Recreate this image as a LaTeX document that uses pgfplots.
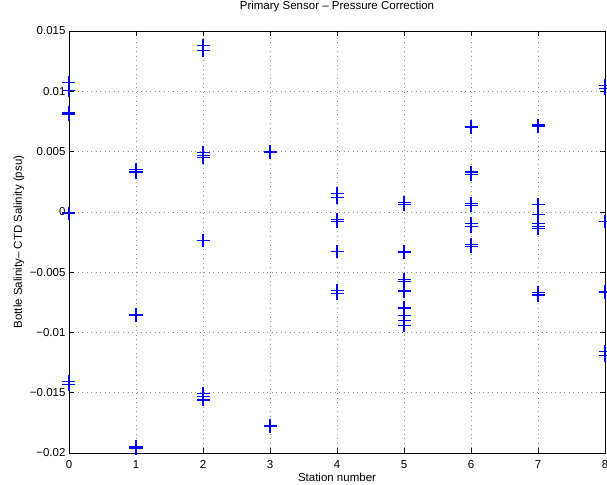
\documentclass[border=0pt]{standalone}
\usepackage{fontspec}
\setmainfont{Liberation Sans}
\usepackage{pgfplots}
\pgfplotsset{compat=1.18}
\definecolor{mblue}{RGB}{0,0,255}
\pgfplotsset{pstyle/.style={only marks, mark=+, mark size=6.5pt, color=mblue, line width=1.15pt}}
\begin{document}
\begin{tikzpicture}
\begin{axis}[
  scale only axis, width=536pt, height=422pt,
  xmin=0, xmax=8, ymin=-0.02, ymax=0.015,
  xtick={0,1,2,3,4,5,6,7,8},
  xticklabels={\textrm{0},\textrm{1},\textrm{2},\textrm{3},\textrm{4},\textrm{5},\textrm{6},\textrm{7},\textrm{8}},
  ytick={-0.02,-0.015,-0.01,-0.005,0,0.005,0.01,0.015},
  yticklabels={\textrm{−0.02},\textrm{−0.015},\textrm{−0.01},\textrm{−0.005},\textrm{0},\textrm{0.005},\textrm{0.01},\textrm{0.015}},
  scaled y ticks=false,
  xtick pos=both, ytick pos=both,
  tick align=inside, major tick length=5pt,
  tick style={black, line width=0.5pt},
  grid=major, grid style={dash pattern=on 1pt off 3.5pt, gray!85, line width=0.6pt},
  axis line style={black, line width=0.6pt},
  ticklabel style={font=\fontsize{11.5}{13}\selectfont},
  xticklabel style={anchor=base, yshift=-15pt},
  title={Primary Sensor – Pressure Correction},
  title style={font=\fontsize{11.5}{13}\selectfont, at={(0.5,1)}, anchor=base, yshift=15pt},
  xlabel={Station number},
  xlabel style={font=\fontsize{11.5}{13}\selectfont, at={(axis description cs:0.5,0)}, anchor=base, yshift=-28pt},
  ylabel={Bottle Salinity– CTD Salinity (psu)},
  ylabel style={font=\fontsize{11.5}{13}\selectfont, at={(axis description cs:-0.0877,0.5)}, anchor=base, rotate=0},
]
\addplot[pstyle] coordinates {(0,0.0107) (0,0.0101) (0,0.0081) (0,0.0082) (0,-0.0001) (0,-0.0141) (0,-0.0143)};
\addplot[pstyle] coordinates {(1,0.0035) (1,0.0033) (1,-0.0085) (1,-0.0086) (1,-0.0195) (1,-0.0196)};
\addplot[pstyle] coordinates {(2,0.0138) (2,0.0134) (2,0.0049) (2,0.0047) (2,0.0045) (2,-0.0024) (2,-0.0151) (2,-0.0153) (2,-0.0156)};
\addplot[pstyle] coordinates {(3,0.0050) (3,0.0049) (3,-0.0177) (3,-0.0178)};
\addplot[pstyle] coordinates {(4,0.0015) (4,0.0012) (4,-0.0006) (4,-0.0008) (4,-0.0033) (4,-0.0065) (4,-0.0068)};
\addplot[pstyle] coordinates {(5,0.0008) (5,0.0006) (5,-0.0033) (5,-0.0034) (5,-0.0056) (5,-0.0058) (5,-0.0065) (5,-0.0066) (5,-0.0079) (5,-0.0080) (5,-0.0086) (5,-0.0090) (5,-0.0094)};
\addplot[pstyle] coordinates {(6,0.0070) (6,0.0071) (6,0.0033) (6,0.0031) (6,0.0007) (6,0.0005) (6,-0.0010) (6,-0.0012) (6,-0.0027) (6,-0.0029)};
\addplot[pstyle] coordinates {(7,0.0071) (7,0.0072) (7,0.0006) (7,-0.0002) (7,-0.0010) (7,-0.0012) (7,-0.0014) (7,-0.0067) (7,-0.0069)};
\addplot[pstyle] coordinates {(8,0.0105) (8,0.0102) (8,-0.0008) (8,-0.0066) (8,-0.0067) (8,-0.0116) (8,-0.0119)};
\end{axis}
\pgfresetboundingbox
\path ([xshift=-69pt,yshift=-31pt]current axis.south west) rectangle ([xshift=2pt,yshift=31pt]current axis.north east);
\end{tikzpicture}
\end{document}
